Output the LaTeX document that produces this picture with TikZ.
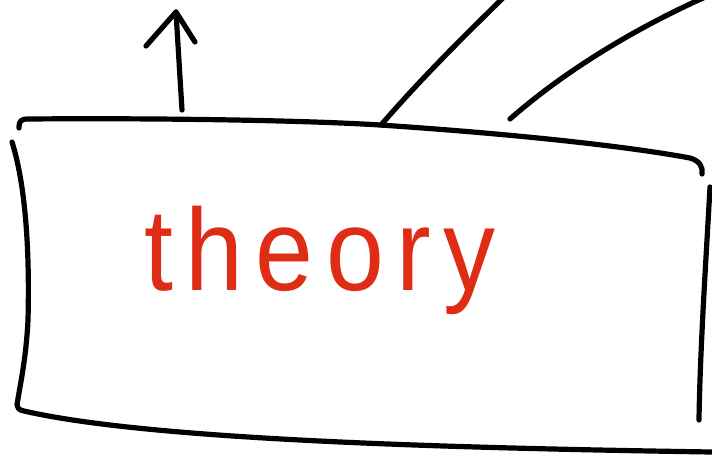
\documentclass[tikz,border=0pt]{standalone}
\usepackage{fontspec}
\setmainfont{Liberation Sans}
\definecolor{inkred}{RGB}{222,45,20}
\begin{document}
\begin{tikzpicture}[x=0.5pt,y=-0.5pt,
  ink/.style={line width=2.6pt,line cap=round,line join=round,black}]
\useasboundingbox (0,0) rectangle (712,456);
% top edge
\draw[ink] (19,128) .. controls (19,121) and (21,119) .. (28,119)
  .. controls (150,118) and (300,120) .. (380,125)
  .. controls (500,133) and (620,145) .. (690,158)
  .. controls (700,161) and (703,167) .. (702,174);
% left edge
\draw[ink] (12,142) .. controls (24,180) and (30,240) .. (28,320)
  .. controls (26,360) and (20,385) .. (17,405)
  .. controls (17,408) and (19,410) .. (24,411)
  .. controls (150,440) and (450,448) .. (712,452);
% right edge
\draw[ink] (710,187) .. controls (706,260) and (700,350) .. (699,420);
% arrow
\coordinate (tip) at (176,12);
\draw[ink] (182,110) -- (tip);
\draw[ink] (146,46) -- (tip) -- (195,42);
% diagonal lines
\draw[ink] (381,125) .. controls (420,80) and (460,40) .. (503,-2);
\draw[ink] (510,119) .. controls (560,75) and (630,30) .. (712,-6);
% text
\node[inkred,anchor=base,inner sep=0pt] (t) at (320,290)
  {\scalebox{1}[1.12]{\fontsize{52}{60}\selectfont\addfontfeatures{LetterSpace=12}theory}};
\end{tikzpicture}
\end{document}
